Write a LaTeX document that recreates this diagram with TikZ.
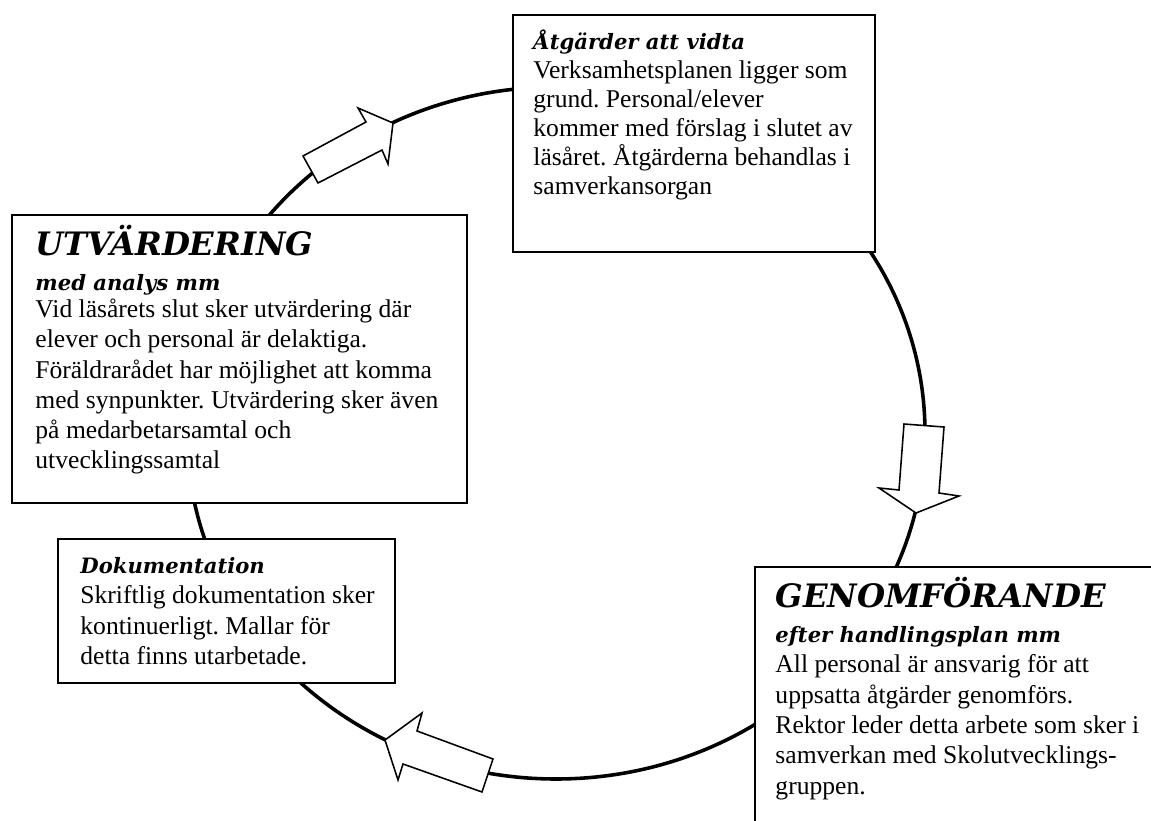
\documentclass[tikz,border=0pt]{standalone}
\usepackage{fontspec}
\setmainfont{Liberation Serif}
\newfontfamily\headfont{DejaVu Serif}
\usetikzlibrary{fit}
\frenchspacing
\newcommand\bigttl[1]{{\headfont\bfseries\itshape\fontsize{14.5}{16}\selectfont #1}}
\newcommand\smallttl[1]{{\headfont\bfseries\itshape\fontsize{9.5}{11}\selectfont #1}}
\tikzset{
  ring/.style={line width=1.6pt},
  infobox/.style={draw, fill=white, line width=0.7pt, inner sep=0pt},
  infotext/.style={anchor=north west, align=left, inner sep=0pt, font=\fontsize{11.5}{13.6}\selectfont},
  blkarrow/.style={draw, fill=white, line width=0.7pt, line join=miter}
}
\begin{document}
\begin{tikzpicture}[x=0.0158cm, y=-0.0158cm]
    \useasboundingbox (0,0) rectangle (1151,821);
    \clip (0,0) rectangle (1151,821);

    % Cycle
    \coordinate (c) at (556,433);
    \draw[ring] (c) ellipse [x radius=369, y radius=346];

    % Boxes
    \node[infobox, fit={(513,15) (875,252)}] (atg) {};
    \node[infobox, fit={(12,215) (467,503)}] (utv) {};
    \node[infobox, fit={(58,539) (395,683)}] (dok) {};
    \node[infobox, fit={(755,567) (1170,840)}] (genom) {};

    % Arrows
    \draw[blkarrow] (303,156) -- (366,122) -- (358,108) -- (393,123) -- (388,164) -- (382,150) -- (318,183) -- cycle;
    \draw[blkarrow] (904,424) -- (944,427) -- (939,493) -- (959,496) -- (916,513) -- (879,488) -- (899,490) -- cycle;
    \draw[blkarrow] (385,740) -- (422,713) -- (417,731) -- (493,759) -- (482,792) -- (403,764) -- (398,780) -- cycle;

    % Text
    \node[infotext, font=\fontsize{11.5}{13.1}\selectfont] (atgtext) at (533,29) {\smallttl{Åtgärder att vidta}\\
        Verksamhetsplanen ligger som\\
        grund. Personal/elever\\
        kommer med förslag i slutet av\\
        läsåret. Åtgärderna behandlas i\\
        samverkansorgan};
    \node[infotext] (utvtext) at (35,225) {\bigttl{UTVÄRDERING}\\[2.1pt]
        \smallttl{med analys mm}\\[-1.5pt]
        Vid läsårets slut sker utvärdering där\\
        elever och personal är delaktiga.\\
        Föräldrarådet har möjlighet att komma\\
        med synpunkter. Utvärdering sker även\\
        på medarbetarsamtal och\\
        utvecklingssamtal};
    \node[infotext] (doktext) at (80,557) {\smallttl{Dokumentation}\\
        Skriftlig dokumentation sker\\
        kontinuerligt. Mallar för\\
        detta finns utarbetade.};
    \node[infotext] (genomtext) at (775,577) {\bigttl{GENOMFÖRANDE}\\[2.1pt]
        \smallttl{efter handlingsplan mm}\\
        All personal är ansvarig för att\\
        uppsatta åtgärder genomförs.\\
        Rektor leder detta arbete som sker i\\
        samverkan med Skolutvecklings-\\
        gruppen.};
\end{tikzpicture}
\end{document}
